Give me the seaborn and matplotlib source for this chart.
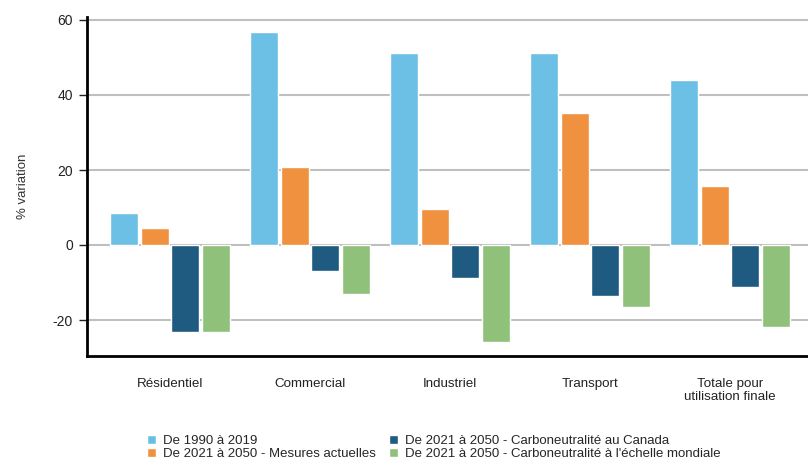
import pandas as pd
import numpy as np
import matplotlib.pyplot as plt
import seaborn as sns

# values
secteurs = ['Résidentiel', 'Commercial', 'Industriel', 'Transport', 'Totale pour\nutilisation finale']
series = ['De 1990 à 2019',
          'De 2021 à 2050 - Mesures actuelles',
          'De 2021 à 2050 - Carboneutralité au Canada',
          'De 2021 à 2050 - Carboneutralité à l\'échelle mondiale']
v_1990_2019 = [8.5, 56.8, 51.2, 51.2, 44.0]
v_mesures = [4.6, 20.8, 9.6, 35.2, 15.6]
v_canada = [-23.2, -6.9, -8.7, -13.6, -11.3]
v_mondiale = [-23.2, -13.0, -25.8, -16.5, -21.8]
y_ticks = [-20, 0, 20, 40, 60]

couleurs = ['#6CC0E5', '#F0913F', '#1F5A80', '#8FC17A']

df = pd.DataFrame({'Secteur': secteurs,
                   series[0]: v_1990_2019,
                   series[1]: v_mesures,
                   series[2]: v_canada,
                   series[3]: v_mondiale})
df = pd.melt(df, id_vars=['Secteur'], var_name='Scenario', value_name='Variation')

sns.set_style('white')
plt.rcParams['font.family'] = ['Liberation Sans', 'DejaVu Sans']
plt.rcParams['axes.unicode_minus'] = False

fig = plt.figure(figsize=(8.08, 4.61), dpi=100)
ax = fig.add_axes([87/808, 105/461, 1 - 87/808, 339/461])

sns.barplot(data=df, x='Secteur', y='Variation', hue='Scenario',
            order=secteurs, hue_order=series, palette=couleurs,
            width=0.88, gap=0.09, saturation=1, errorbar=None, ax=ax)

ax.set_xlim(-0.593, 4.557)
ax.set_ylim(-29.6, 60.8)
ax.set_yticks(y_ticks)
ax.yaxis.grid(True, color='#BFBFBF', linewidth=1.5)
ax.set_axisbelow(True)
for s in ['top', 'right']:
    ax.spines[s].set_visible(False)
for s in ['left', 'bottom']:
    ax.spines[s].set_color('black')
    ax.spines[s].set_linewidth(2)
ax.tick_params(axis='y', left=True, length=6, width=1, pad=4, labelsize=10, colors='#222222')
ax.tick_params(axis='x', bottom=False, labelsize=9.6, colors='#222222', pad=12)
ax.set_xlabel('')
ax.set_ylabel('% variation', fontsize=9.5, color='#333333', labelpad=17)

handles, labels = ax.get_legend_handles_labels()
ax.get_legend().remove()
fig.legend(handles, labels, ncol=2, loc='upper left',
           bbox_to_anchor=(140/808, 1 - 428/461), frameon=False,
           fontsize=9.5, handlelength=0.75, handleheight=0.75, handletextpad=0.5,
           columnspacing=0.95, labelspacing=0.05, borderpad=0)

fig.savefig('out.png', dpi=100)
